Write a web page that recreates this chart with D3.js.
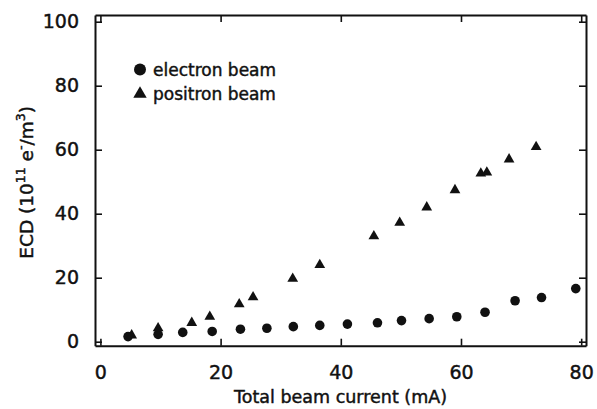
<!DOCTYPE html>
<html>
<head>
<meta charset="utf-8">
<script src="https://cdn.jsdelivr.net/npm/d3@7"></script>
<style>
  html, body { margin: 0; padding: 0; background: #fff; }
  svg { display: block; }
  text { font-family: "DejaVu Sans", sans-serif; fill: #111; stroke: #111; stroke-width: 0.45px; }
</style>
</head>
<body>
<svg id="chart" width="597" height="409"></svg>
<script>
// ---- data ----
const electronCurrent = [4.6, 9.6, 13.7, 18.6, 23.3, 27.7, 32.1, 36.5, 41.1, 46.1, 50.1, 54.7, 59.3, 64.0, 69.0, 73.4, 79.1];
const electronECD     = [1.6, 2.3, 2.9, 3.2, 3.9, 4.2, 4.7, 5.1, 5.5, 5.9, 6.6, 7.2, 7.8, 9.2, 12.8, 13.8, 16.6];

const positronCurrent = [5.2, 9.6, 15.2, 18.2, 23.1, 25.4, 32.0, 36.5, 45.5, 49.8, 54.3, 59.0, 63.3, 64.3, 68.0, 72.5];
const positronECD     = [2.0, 4.2, 5.9, 7.8, 11.7, 13.9, 19.7, 24.0, 33.0, 37.2, 42.0, 47.4, 52.6, 52.9, 57.0, 60.9];

const xTicks = [0, 20, 40, 60, 80];
const yTicks = [0, 20, 40, 60, 80, 100];
const legendLabels = ["electron beam", "positron beam"];
const xTitle = "Total beam current (mA)";

// ---- layout ----
const L = 95, R = 586, T = 15, B = 345.7;
const svg = d3.select("#chart");

const x = d3.scaleLinear().domain([-0.9, 80.8]).range([L, R]);
const y = d3.scaleLinear().domain([-1.25, 102.1]).range([B, T]);

const tickLen = 7;

function styleAxis(g) {
  g.select(".domain").attr("stroke", "#111").attr("stroke-width", 2);
  g.selectAll(".tick line").attr("stroke", "#111").attr("stroke-width", 1.6);
  g.selectAll(".tick text").attr("font-family", "DejaVu Sans, sans-serif")
    .attr("font-size", 19).attr("fill", "#111");
}

// bottom axis
svg.append("g").attr("transform", `translate(0,${B})`)
  .call(d3.axisBottom(x).tickValues(xTicks).tickSize(-tickLen).tickSizeOuter(0).tickPadding(13 + tickLen).tickFormat(d3.format("d")))
  .call(styleAxis);
// top axis
svg.append("g").attr("transform", `translate(0,${T})`)
  .call(d3.axisTop(x).tickValues(xTicks).tickSize(-tickLen).tickSizeOuter(0).tickFormat(""))
  .call(styleAxis);
// left axis
svg.append("g").attr("transform", `translate(${L},0)`)
  .call(d3.axisLeft(y).tickValues(yTicks).tickSize(-tickLen).tickSizeOuter(0).tickPadding(9 + tickLen).tickFormat(d3.format("d")))
  .call(styleAxis);
// right axis
svg.append("g").attr("transform", `translate(${R},0)`)
  .call(d3.axisRight(y).tickValues(yTicks).tickSize(-tickLen).tickSizeOuter(0).tickFormat(""))
  .call(styleAxis);

// ---- data marks ----
const electrons = electronCurrent.map((c, i) => ({c, v: electronECD[i]}));
const positrons = positronCurrent.map((c, i) => ({c, v: positronECD[i]}));

svg.append("g").selectAll("circle").data(electrons).join("circle")
  .attr("cx", d => x(d.c)).attr("cy", d => y(d.v)).attr("r", 4.8)
  .attr("fill", "#111");

const tri = d3.symbol().type(d3.symbolTriangle).size(50);
svg.append("g").selectAll("path").data(positrons).join("path")
  .attr("d", tri)
  .attr("transform", d => `translate(${x(d.c)},${y(d.v)})`)
  .attr("fill", "#111");

// ---- legend ----
const lg = svg.append("g");
lg.append("circle").attr("cx", 140).attr("cy", 69.5).attr("r", 6).attr("fill", "#111");
lg.append("path").attr("d", d3.symbol().type(d3.symbolTriangle).size(78)())
  .attr("transform", "translate(140,94)").attr("fill", "#111");
lg.selectAll("text").data(legendLabels).join("text")
  .attr("x", 153).attr("y", (d, i) => 75.5 + i * 24.5)
  .attr("font-size", 17).text(d => d);

// ---- axis titles ----
svg.append("text").attr("x", (L + R) / 2).attr("y", 403)
  .attr("text-anchor", "middle").attr("font-size", 17.5).text(xTitle);

const yt = svg.append("text")
  .attr("transform", `translate(33,${(T + B) / 2 + 2}) rotate(-90)`)
  .attr("text-anchor", "middle").attr("font-size", 18.5);
yt.append("tspan").text("ECD (10");
yt.append("tspan").attr("dy", -8).attr("font-size", 12.5).text("11");
yt.append("tspan").attr("dy", 8).text(" e");
yt.append("tspan").attr("dy", -8).attr("font-size", 12.5).text("-");
yt.append("tspan").attr("dy", 8).text("/m");
yt.append("tspan").attr("dy", -8).attr("font-size", 12.5).text("3");
yt.append("tspan").attr("dy", 8).text(")");
</script>
</body>
</html>
